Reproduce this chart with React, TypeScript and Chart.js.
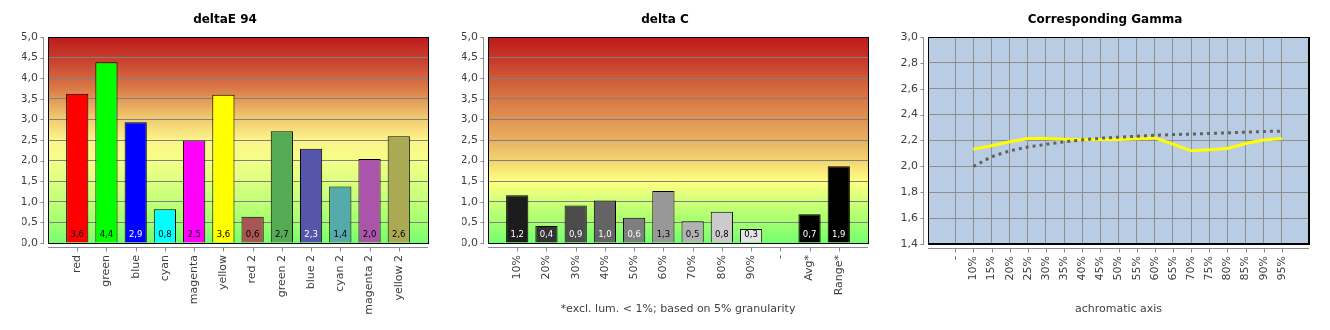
import React, { useEffect, useRef } from 'react';
import { Chart, registerables } from 'chart.js';

Chart.register(...registerables);

// ---------- data ----------
const deltaETitle = 'deltaE 94';
const deltaECategories = ['red', 'green', 'blue', 'cyan', 'magenta', 'yellow', 'red 2', 'green 2', 'blue 2', 'cyan 2', 'magenta 2', 'yellow 2'];
const deltaEValues = [3.62, 4.39, 2.93, 0.82, 2.49, 3.6, 0.64, 2.71, 2.29, 1.37, 2.04, 2.59];
const deltaEColors = ['#FF0000', '#00FF00', '#0000FF', '#00FFFF', '#FF00FF', '#FFFF00', '#A85555', '#55AA55', '#5555AA', '#55AAAA', '#AA55AA', '#AAAA55'];
const deltaELabelColors = ['#000', '#000', '#FFF', '#000', '#000', '#000', '#000', '#000', '#FFF', '#000', '#000', '#000'];

const deltaCTitle = 'delta C';
const deltaCCategories = ['10%', '20%', '30%', '40%', '50%', '60%', '70%', '80%', '90%', '-', 'Avg*', 'Range*'];
const deltaCValues = [1.16, 0.41, 0.91, 1.03, 0.61, 1.26, 0.53, 0.76, 0.34, null, 0.7, 1.86];
const deltaCColors = ['#1C1C1C', '#333333', '#4B4B4B', '#646464', '#7E7E7E', '#989898', '#B2B2B2', '#CBCBCB', '#E4E4E4', '#000000', '#000000', '#000000'];
const deltaCLabelColors = ['#FFF', '#FFF', '#FFF', '#FFF', '#FFF', '#000', '#000', '#000', '#000', '#000', '#FFF', '#FFF'];
const deltaCCaption = '*excl. lum. < 1%; based on 5% granularity';

const gammaTitle = 'Corresponding Gamma';
const gammaLabels = ['-', '10%', '15%', '20%', '25%', '30%', '35%', '40%', '45%', '50%', '55%', '60%', '65%', '70%', '75%', '80%', '85%', '90%', '95%'];
const gammaMeasured = [null, 2.133, 2.159, 2.19, 2.215, 2.215, 2.21, 2.208, 2.208, 2.208, 2.213, 2.22, 2.172, 2.12, 2.128, 2.139, 2.177, 2.203, 2.215];
const gammaReference = [null, 2.0, 2.074, 2.12, 2.15, 2.17, 2.19, 2.205, 2.218, 2.226, 2.233, 2.24, 2.246, 2.249, 2.254, 2.259, 2.264, 2.27, 2.272];
const gammaCaption = 'achromatic axis';

// ---------- styles ----------
const FONT = '"DejaVu Sans", Verdana, sans-serif';
const TEXT = '#404040';
const AXIS = '#8a8a8a';

const gradientDeltaE: [number, string][] = [
  [0, '#BE1A1A'], [0.12, '#C94430'], [0.25, '#DA7A48'], [0.38, '#EEC46C'], [0.5, '#FCF48A'],
  [0.6, '#F4FF88'], [0.7, '#DCFF80'], [0.8, '#C2FF78'], [0.9, '#A2FF70'], [1, '#76FF6E'],
];
const gradientDeltaC: [number, string][] = [
  [0, '#BE1A1A'], [0.1, '#C63628'], [0.2, '#CF5838'], [0.3, '#D87844'], [0.4, '#E09452'],
  [0.5, '#E8B060'], [0.6, '#F2D470'], [0.7, '#FFFF80'], [0.8, '#D0FF78'], [0.9, '#A4FF70'], [1, '#72FF6E'],
];

const fmt = (v: number) => v.toFixed(1).replace('.', ',');

function axesPlugin() {
  return {
    id: 'offsetAxes',
    afterDraw(chart: any) {
      const { ctx, chartArea: a } = chart;
      const xs = chart.scales.x;
      const ys = chart.scales.y;
      ctx.save();
      ctx.strokeStyle = AXIS;
      ctx.lineWidth = 1;
      const ax = Math.round(a.left) - 4.5;
      ctx.beginPath();
      ctx.moveTo(ax, a.top);
      ctx.lineTo(ax, a.bottom + 1);
      ys.ticks.forEach((t: any) => {
        const py = Math.round(ys.getPixelForValue(t.value)) + 0.5;
        ctx.moveTo(ax - 3, py);
        ctx.lineTo(ax, py);
      });
      const ay = Math.round(a.bottom) + 4.5;
      ctx.moveTo(a.left, ay);
      ctx.lineTo(a.right, ay);
      const labels = chart.data.labels as string[];
      labels.forEach((l, i) => {
        if (l === '') return;
        const px = Math.round(xs.getPixelForTick(i)) + 0.5;
        ctx.moveTo(px, ay);
        ctx.lineTo(px, ay + 4);
      });
      ctx.stroke();
      ctx.restore();
    },
  };
}

function barFramePlugin(labelColors: string[]) {
  return {
    id: 'barFrame',
    beforeDraw(chart: any) {
      const { ctx, chartArea: a } = chart;
      const stops = chart.options.plugins.plotStops as [number, string][];
      ctx.save();
      const g = ctx.createLinearGradient(0, a.top, 0, a.bottom);
      stops.forEach(([p, c]) => g.addColorStop(p, c));
      ctx.fillStyle = g;
      ctx.fillRect(a.left, a.top, a.right - a.left, a.bottom - a.top);
      ctx.restore();
    },
    afterDatasetsDraw(chart: any) {
      const { ctx, chartArea: a } = chart;
      ctx.save();
      ctx.strokeStyle = '#000';
      ctx.lineWidth = 1;
      ctx.strokeRect(Math.round(a.left) + 0.5, Math.round(a.top) + 0.5, Math.round(a.right - a.left), Math.round(a.bottom - a.top));
      const meta = chart.getDatasetMeta(0);
      const data = chart.data.datasets[0].data as (number | null)[];
      ctx.font = `8.5px ${FONT}`;
      ctx.textAlign = 'center';
      ctx.textBaseline = 'middle';
      meta.data.forEach((el: any, i: number) => {
        const v = data[i];
        if (v === null || v === undefined) return;
        ctx.fillStyle = labelColors[i - 1] || '#000';
        ctx.fillText(fmt(v), el.x, a.bottom - 8);
      });
      ctx.restore();
    },
  };
}

function makeBarConfig(title: string, categories: string[], values: (number | null)[], colors: string[], labelColors: string[], stops: [number, string][], caption?: string) {
  const labels = ['', ...categories, ''];
  const data = [null, ...values, null];
  const bg = ['rgba(0,0,0,0)', ...colors, 'rgba(0,0,0,0)'];
  return {
    type: 'bar',
    data: {
      labels,
      datasets: [{ data, backgroundColor: bg, borderColor: '#000', borderWidth: 1, barPercentage: 0.76, categoryPercentage: 1 }],
    },
    options: {
      animation: false,
      responsive: false,
      maintainAspectRatio: false,
      events: [],
      layout: { padding: { left: 22, right: 12, top: 0, bottom: 0 } },
      plugins: {
        plotStops: stops,
        legend: { display: false },
        tooltip: { enabled: false },
        title: { display: true, text: title, color: '#000', font: { family: FONT, size: 12, weight: 'bold' }, padding: { top: 13, bottom: 9.6 } },
      },
      scales: {
        x: {
          type: 'category',
          offset: false,
          grid: { display: false, drawTicks: false },
          border: { display: false },
          ticks: { autoSkip: false, maxRotation: 90, minRotation: 90, padding: 12, color: TEXT, font: { family: FONT, size: 11 } },
          title: caption
            ? { display: true, text: caption, color: TEXT, font: { family: FONT, size: 11 }, padding: { top: 0, bottom: 14 } }
            : { display: false },
          afterFit: (s: any) => { s.height = 87; s.paddingLeft = 0; s.paddingRight = 0; },
        },
        y: {
          min: 0,
          max: 5,
          ticks: { stepSize: 0.5, padding: 10, color: TEXT, font: { family: FONT, size: 11 }, callback: (v: any) => fmt(Number(v)) },
          grid: { color: '#808080', drawTicks: false },
          border: { display: false },
          afterFit: (s: any) => { s.width = 26; },
        },
      },
    },
    plugins: [barFramePlugin(labelColors), axesPlugin()],
  };
}

function makeGammaConfig() {
  const labels = ['', ...gammaLabels, ''];
  const measured = [null, ...gammaMeasured, null];
  const reference = [null, ...gammaReference, null];
  const last = labels.length - 1;
  return {
    type: 'line',
    data: {
      labels,
      datasets: [
        { data: reference, borderColor: '#626262', borderWidth: 3, borderDash: [3, 4], pointRadius: 0, tension: 0, fill: false, order: 0 },
        { data: measured, borderColor: '#FFFF00', borderWidth: 3, pointRadius: 0, tension: 0, fill: false, order: 1 },
      ],
    },
    options: {
      animation: false,
      responsive: false,
      maintainAspectRatio: false,
      events: [],
      layout: { padding: { left: 21, right: 11, top: 0, bottom: 0 } },
      plugins: {
        legend: { display: false },
        tooltip: { enabled: false },
        title: { display: true, text: gammaTitle, color: '#000', font: { family: FONT, size: 12, weight: 'bold' }, padding: { top: 13, bottom: 9.6 } },
      },
      scales: {
        x: {
          type: 'category',
          offset: true,
          grid: {
            offset: false,
            drawTicks: false,
            color: (c: any) => (c.index === 0 || c.index === last ? 'rgba(0,0,0,0)' : '#8E8E8E'),
          },
          border: { display: false },
          ticks: { autoSkip: false, maxRotation: 90, minRotation: 90, padding: 12, color: TEXT, font: { family: FONT, size: 11 } },
          title: { display: true, text: gammaCaption, color: TEXT, font: { family: FONT, size: 11 }, padding: { top: 0, bottom: 14 } },
          afterFit: (s: any) => { s.height = 86; s.paddingLeft = 0; s.paddingRight = 0; },
        },
        y: {
          min: 1.4,
          max: 3.0,
          ticks: { stepSize: 0.2, padding: 10, color: TEXT, font: { family: FONT, size: 11 }, callback: (v: any) => fmt(Number(v)) },
          grid: { color: '#8E8E8E', drawTicks: false },
          border: { display: false },
          afterFit: (s: any) => { s.width = 27; },
        },
      },
    },
    plugins: [
      {
        id: 'gammaBg',
        beforeDraw(chart: any) {
          const { ctx, chartArea: a } = chart;
          ctx.save();
          ctx.fillStyle = '#B8CCE4';
          ctx.fillRect(a.left, a.top, a.right - a.left, a.bottom - a.top);
          ctx.restore();
        },
        afterDatasetsDraw(chart: any) {
          const { ctx, chartArea: a } = chart;
          ctx.save();
          ctx.strokeStyle = '#000';
          ctx.lineWidth = 1;
          const l = Math.round(a.left) + 0.5;
          const t = Math.round(a.top) + 0.5;
          const r = Math.round(a.right) + 0.5;
          const b = Math.round(a.bottom) + 0.5;
          ctx.strokeRect(l, t, r - l, b - t);
          ctx.beginPath();
          ctx.moveTo(l, b - 1);
          ctx.lineTo(r, b - 1);
          ctx.moveTo(r - 1, t);
          ctx.lineTo(r - 1, b);
          ctx.stroke();
          ctx.restore();
        },
      },
      axesPlugin(),
    ],
  };
}

function ChartBox({ left, make }: { left: number; make: () => any }) {
  const ref = useRef<HTMLCanvasElement>(null);
  useEffect(() => {
    const chart = new Chart(ref.current as HTMLCanvasElement, make());
    return () => chart.destroy();
  }, []);
  return (
    <div style={{ position: 'absolute', left, top: 0, width: 440, height: 330 }}>
      <canvas ref={ref} width={440} height={330} style={{ width: 440, height: 330, display: 'block' }} />
    </div>
  );
}

export default function App() {
  return (
    <div style={{ position: 'absolute', left: 0, top: 0, width: 1330, height: 330, background: '#fff' }}>
      <ChartBox left={0} make={() => makeBarConfig(deltaETitle, deltaECategories, deltaEValues, deltaEColors, deltaELabelColors, gradientDeltaE)} />
      <ChartBox left={440} make={() => makeBarConfig(deltaCTitle, deltaCCategories, deltaCValues, deltaCColors, deltaCLabelColors, gradientDeltaC, deltaCCaption)} />
      <ChartBox left={880} make={makeGammaConfig} />
    </div>
  );
}
